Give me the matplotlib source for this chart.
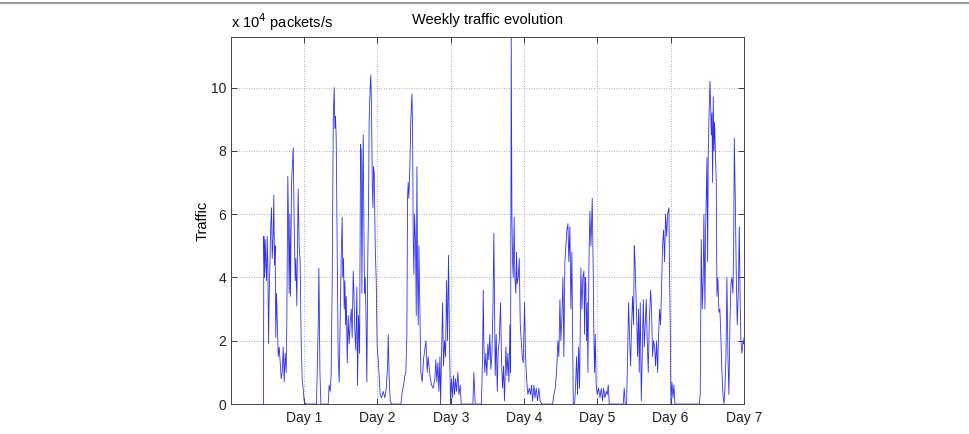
import matplotlib
matplotlib.use("Agg")
import matplotlib.pyplot as plt

# time in days, traffic in units of 1e4 packets/s
day = [
    0.445, 0.450, 0.460, 0.469, 0.478, 0.487, 0.496, 0.505, 0.514, 0.523,
    0.532, 0.541, 0.555, 0.564, 0.577, 0.586, 0.595, 0.604, 0.613, 0.623,
    0.632, 0.646, 0.660, 0.673, 0.687, 0.700, 0.714, 0.728, 0.741, 0.755,
    0.764, 0.777, 0.786, 0.795, 0.805, 0.813, 0.828, 0.851, 0.864, 0.878,
    0.887, 0.900, 0.918, 0.932, 0.945, 0.959, 0.973, 0.982, 1.000, 1.019,
    1.168, 1.192, 1.201, 1.215, 1.228, 1.328, 1.341, 1.355, 1.368, 1.383,
    1.397, 1.410, 1.419, 1.428, 1.437, 1.451, 1.464, 1.478, 1.491, 1.505,
    1.518, 1.527, 1.537, 1.546, 1.556, 1.565, 1.574, 1.588, 1.601, 1.614,
    1.628, 1.642, 1.655, 1.669, 1.678, 1.692, 1.705, 1.719, 1.728, 1.742,
    1.756, 1.769, 1.778, 1.788, 1.797, 1.806, 1.815, 1.824, 1.833, 1.842,
    1.855, 1.869, 1.878, 1.887, 1.900, 1.909, 1.919, 1.929, 1.938, 1.947,
    1.956, 1.969, 1.983, 1.996, 2.010, 2.024, 2.037, 2.055, 2.078, 2.101,
    2.120, 2.138, 2.147, 2.160, 2.174, 2.192, 2.319, 2.338, 2.356, 2.374,
    2.387, 2.401, 2.410, 2.419, 2.428, 2.442, 2.455, 2.470, 2.479, 2.488,
    2.497, 2.506, 2.520, 2.529, 2.538, 2.547, 2.556, 2.565, 2.578, 2.592,
    2.610, 2.628, 2.661, 2.679, 2.692, 2.715, 2.738, 2.760, 2.783, 2.796,
    2.810, 2.824, 2.838, 2.852, 2.861, 2.874, 2.888, 2.901, 2.915, 2.929,
    2.942, 2.956, 2.969, 2.983, 2.996, 3.010, 3.025, 3.038, 3.052, 3.065,
    3.079, 3.097, 3.111, 3.129, 3.142, 3.302, 3.315, 3.333, 3.416, 3.425,
    3.434, 3.443, 3.452, 3.465, 3.479, 3.492, 3.506, 3.520, 3.533, 3.547,
    3.560, 3.575, 3.588, 3.597, 3.606, 3.620, 3.634, 3.647, 3.661, 3.679,
    3.692, 3.706, 3.720, 3.733, 3.752, 3.766, 3.779, 3.793, 3.807, 3.816,
    3.825, 3.834, 3.843, 3.852, 3.865, 3.874, 3.888, 3.897, 3.906, 3.920,
    3.934, 3.948, 3.961, 3.975, 3.988, 4.007, 4.020, 4.034, 4.052, 4.070,
    4.088, 4.102, 4.116, 4.134, 4.148, 4.166, 4.184, 4.202, 4.220, 4.238,
    4.389, 4.407, 4.425, 4.443, 4.461, 4.474, 4.489, 4.502, 4.516, 4.530,
    4.543, 4.557, 4.570, 4.584, 4.598, 4.611, 4.625, 4.639, 4.652, 4.671,
    4.689, 4.703, 4.716, 4.730, 4.744, 4.757, 4.775, 4.789, 4.802, 4.816,
    4.825, 4.834, 4.843, 4.853, 4.862, 4.871, 4.885, 4.898, 4.912, 4.930,
    4.944, 4.953, 4.962, 4.971, 4.984, 4.998, 5.016, 5.035, 5.053, 5.071,
    5.085, 5.103, 5.121, 5.135, 5.148, 5.162, 5.353, 5.366, 5.380, 5.399,
    5.412, 5.426, 5.440, 5.453, 5.467, 5.480, 5.494, 5.503, 5.512, 5.526,
    5.539, 5.548, 5.562, 5.571, 5.585, 5.599, 5.612, 5.626, 5.640, 5.653,
    5.667, 5.680, 5.694, 5.707, 5.726, 5.739, 5.753, 5.767, 5.781, 5.794,
    5.808, 5.822, 5.835, 5.849, 5.862, 5.876, 5.889, 5.903, 5.917, 5.930,
    5.945, 5.958, 5.976, 5.985, 5.994, 6.003, 6.017, 6.031, 6.044, 6.058,
    6.390, 6.403, 6.417, 6.431, 6.444, 6.453, 6.467, 6.476, 6.485, 6.495,
    6.504, 6.513, 6.522, 6.536, 6.545, 6.554, 6.563, 6.572, 6.581, 6.590,
    6.599, 6.613, 6.622, 6.631, 6.644, 6.658, 6.671, 6.686, 6.699, 6.713,
    6.727, 6.740, 6.754, 6.767, 6.781, 6.794, 6.808, 6.822, 6.835, 6.849,
    6.859, 6.868, 6.881, 6.895, 6.908, 6.922, 6.936, 6.949, 6.958, 6.972,
    6.986, 6.995, 7.000,
]
traffic = [
    0.0, 5.3, 4.0, 5.2, 4.4, 3.9, 5.3, 4.3, 1.9, 3.5,
    4.3, 5.5, 6.2, 4.6, 5.3, 6.6, 4.4, 5.0, 2.1, 3.5,
    2.7, 1.5, 1.8, 1.3, 0.8, 1.0, 1.8, 0.7, 1.6, 1.0,
    2.8, 7.2, 5.8, 3.5, 6.0, 3.4, 7.0, 8.1, 5.6, 3.9,
    4.6, 3.1, 6.8, 5.0, 4.5, 2.0, 0.8, 0.6, 0.1, 0.0,
    0.0, 2.5, 4.3, 1.0, 0.0, 0.0, 0.6, 0.4, 0.9, 4.0,
    9.0, 10.0, 8.7, 9.1, 8.4, 5.0, 1.5, 0.7, 2.5, 4.6,
    5.9, 4.0, 4.6, 3.0, 3.9, 2.5, 3.4, 1.3, 2.8, 1.9,
    2.6, 3.0, 2.1, 4.2, 3.6, 2.3, 1.7, 3.7, 0.6, 2.8,
    1.6, 8.2, 8.0, 3.5, 7.0, 8.5, 5.5, 3.5, 4.0, 3.0,
    0.7, 4.8, 6.2, 9.0, 10.0, 10.4, 9.3, 7.0, 6.2, 7.5,
    7.3, 5.0, 3.9, 1.8, 1.4, 0.8, 0.3, 0.2, 0.4, 0.2,
    0.5, 1.2, 2.2, 0.8, 0.1, 0.0, 0.0, 0.4, 0.6, 0.9,
    1.0, 2.2, 6.5, 7.0, 6.5, 7.5, 9.0, 9.8, 8.7, 5.2,
    4.1, 6.0, 5.0, 2.8, 7.5, 4.0, 2.5, 5.0, 3.0, 1.0,
    0.7, 1.4, 2.0, 1.0, 1.5, 0.9, 0.6, 0.5, 0.8, 1.4,
    0.7, 1.3, 0.4, 1.5, 0.0, 1.5, 3.2, 1.2, 2.0, 1.5,
    3.9, 2.0, 4.7, 2.0, 0.0, 0.8, 0.2, 0.9, 0.3, 0.8,
    0.4, 1.0, 0.3, 0.6, 0.0, 0.0, 1.0, 0.0, 0.0, 0.6,
    1.6, 3.6, 1.8, 1.0, 1.6, 0.9, 1.9, 1.4, 2.2, 1.1,
    1.5, 3.0, 5.4, 3.0, 0.9, 2.2, 0.4, 1.7, 2.0, 3.2,
    1.4, 0.5, 1.2, 0.1, 1.8, 0.9, 1.6, 0.7, 2.5, 1.0,
    11.6, 6.0, 4.5, 4.0, 5.9, 4.0, 3.5, 4.8, 3.8, 4.0,
    4.6, 2.5, 2.0, 1.5, 1.3, 3.2, 1.5, 0.8, 0.3, 0.5,
    0.3, 0.6, 0.1, 0.6, 0.2, 0.5, 0.1, 0.5, 0.1, 0.0,
    0.0, 0.3, 0.5, 1.0, 2.0, 1.5, 3.3, 2.0, 2.7, 4.0,
    1.5, 4.5, 5.0, 5.5, 5.7, 4.5, 5.6, 3.0, 4.8, 0.0,
    0.0, 0.6, 1.5, 0.3, 1.8, 0.5, 4.3, 3.0, 4.0, 4.2,
    2.2, 4.0, 3.8, 2.0, 3.2, 1.0, 4.5, 6.1, 5.0, 6.5,
    4.0, 2.0, 1.0, 2.2, 0.6, 0.3, 0.5, 0.2, 0.5, 0.1,
    0.5, 0.2, 0.4, 0.3, 0.6, 0.0, 0.0, 0.5, 0.0, 0.0,
    1.5, 3.2, 2.0, 1.2, 2.5, 3.4, 2.5, 5.0, 4.6, 3.5,
    2.5, 1.5, 3.0, 1.0, 3.2, 0.1, 1.5, 3.3, 1.8, 2.5,
    3.3, 2.0, 1.0, 2.5, 3.6, 3.0, 1.5, 2.0, 1.8, 1.2,
    2.0, 1.0, 2.2, 3.0, 2.5, 3.7, 5.0, 5.5, 4.5, 6.0,
    5.3, 6.0, 6.2, 4.0, 2.5, 0.0, 0.7, 0.2, 0.6, 0.0,
    0.0, 0.3, 5.2, 3.0, 4.0, 6.0, 3.0, 5.5, 6.5, 7.8,
    4.5, 8.0, 9.0, 10.2, 9.5, 8.5, 9.2, 7.0, 9.7, 8.0,
    8.9, 7.8, 7.0, 3.4, 4.0, 2.9, 3.0, 2.0, 1.0, 0.3,
    0.0, 0.5, 1.5, 4.0, 1.5, 0.3, 2.5, 3.8, 4.0, 3.5,
    5.0, 8.4, 6.5, 4.0, 2.5, 3.5, 5.6, 3.0, 2.0, 1.6,
    2.0, 1.9, 2.1,
]
day_ticks = [1, 2, 3, 4, 5, 6, 7]
day_labels = ["Day 1", "Day 2", "Day 3", "Day 4", "Day 5", "Day 6", "Day 7"]
traffic_ticks = [0, 2, 4, 6, 8, 10]

plt.rcParams["font.family"] = ["Liberation Sans", "DejaVu Sans"]

fig = plt.figure(figsize=(9.7, 4.34), dpi=100)
ax = fig.add_axes([0.238, 0.069, 0.529, 0.846])

ax.plot(day, traffic, color="#3030f2", linewidth=0.6)

ax.set_xlim(0, 7)
ax.set_ylim(0, 11.6)
ax.set_xticks(day_ticks)
ax.set_xticklabels(day_labels)
ax.set_yticks(traffic_ticks)
ax.tick_params(direction="in", top=True, right=True, length=4, width=0.6,
               labelsize=10, colors="#222222")
ax.tick_params(axis="x", pad=5)
ax.grid(True, linestyle=(0, (1, 2)), color="#999999", linewidth=0.6)
for s in ax.spines.values():
    s.set_linewidth(0.7)
    s.set_color("#444444")

ax.set_title("Weekly traffic evolution", fontsize=10.5, pad=9)
ax.set_ylabel("Traffic", fontsize=10.5, labelpad=1)
ax.text(0.0, 1.01, r"x 10$^{4}$ packets/s", transform=ax.transAxes,
        fontsize=10.5, ha="left", va="bottom")

# thin grey frame line at the top of the figure
fig.add_artist(plt.Line2D([0, 1], [0.993, 0.993], transform=fig.transFigure,
                          color="#999999", linewidth=1.5))

fig.savefig("out.png", dpi=100)
